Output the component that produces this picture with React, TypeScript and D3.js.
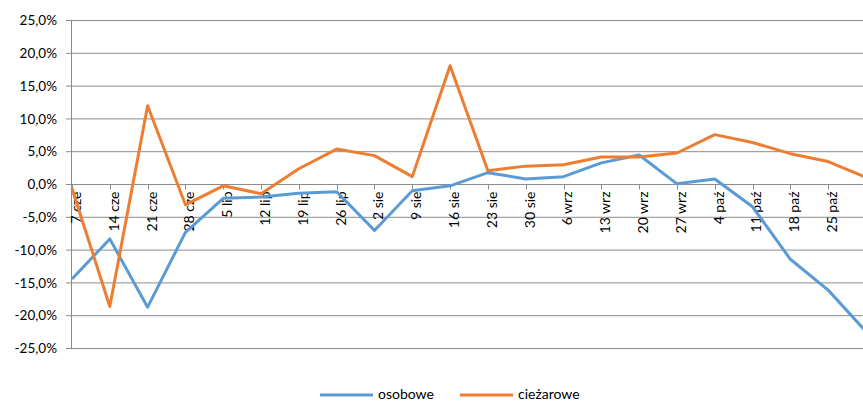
import React from "react";
import * as d3 from "d3";

const categories = [
  "7 cze", "14 cze", "21 cze", "28 cze", "5 lip", "12 lip", "19 lip", "26 lip",
  "2 sie", "9 sie", "16 sie", "23 sie", "30 sie", "6 wrz", "13 wrz", "20 wrz",
  "27 wrz", "4 paź", "11 paź", "18 paź", "25 paź", "1 lis",
];
const osobowe = [
  -14.4, -8.3, -18.7, -7.3, -2.1, -1.9, -1.35, -1.1, -7.0, -0.95, -0.2, 1.8,
  0.85, 1.2, 3.3, 4.5, 0.1, 0.85, -3.4, -11.4, -16.1, -22.4,
];
const ciezarowe = [
  -0.6, -18.6, 12.0, -3.1, -0.2, -1.4, 2.4, 5.4, 4.4, 1.2, 18.1, 2.1,
  2.8, 3.0, 4.2, 4.2, 4.8, 7.6, 6.4, 4.7, 3.5, 1.1,
];
const yTicks = [25, 20, 15, 10, 5, 0, -5, -10, -15, -20, -25];
const labelCount = 21;

const W = 863;
const H = 401;
const FONT = "Lato, 'Open Sans', sans-serif";

export default function App() {
  const x = d3.scaleLinear().domain([0, categories.length - 1]).range([72, 866]);
  const y = d3.scaleLinear().domain([-25, 25]).range([348.5, 20.5]);
  const line = d3
    .line<number>()
    .x((_, i) => x(i))
    .y((d) => y(d));
  const fmt = (v: number) => v.toFixed(1).replace(".", ",") + "%";
  const y0 = y(0);

  return (
    <svg
      width={W}
      height={H}
      style={{ position: "absolute", left: 0, top: 0, overflow: "hidden", background: "#fff" }}
    >
      {yTicks.map((t) => (
        <g key={t}>
          <line x1={66} x2={W} y1={y(t)} y2={y(t)} stroke="#8c8c8c" strokeWidth={1} />
          <text
            x={57}
            y={y(t)}
            dy="0.35em"
            textAnchor="end"
            fontFamily={FONT}
            fontSize={13.5}
            fill="#000"
          >
            {fmt(t)}
          </text>
        </g>
      ))}
      <line x1={71.5} x2={71.5} y1={y(25)} y2={y(-25)} stroke="#8c8c8c" strokeWidth={1} />
      {categories.map((c, i) => (
        <line
          key={"t" + i}
          x1={Math.round(x(i)) + 0.5}
          x2={Math.round(x(i)) + 0.5}
          y1={y0}
          y2={y0 + 5}
          stroke="#8c8c8c"
          strokeWidth={1}
        />
      ))}
      {categories.slice(0, labelCount).map((c, i) => (
        <text
          key={"l" + i}
          transform={`translate(${x(i) + 4},${y0 + 7}) rotate(-90)`}
          textAnchor="end"
          dy="0.35em"
          fontFamily={FONT}
          fontSize={14}
          fill="#000"
        >
          {c}
        </text>
      ))}
      <path d={line(osobowe) || ""} fill="none" stroke="#5B9BD5" strokeWidth={3} strokeLinejoin="round" />
      <path d={line(ciezarowe) || ""} fill="none" stroke="#ED7D31" strokeWidth={3} strokeLinejoin="round" />
      <g>
        <line x1={320} x2={373} y1={395} y2={395} stroke="#5B9BD5" strokeWidth={3} />
        <text x={378} y={394} dy="0.35em" fontFamily={FONT} fontSize={14} fill="#000">
          osobowe
        </text>
        <line x1={460} x2={513} y1={395} y2={395} stroke="#ED7D31" strokeWidth={3} />
        <text x={518} y={394} dy="0.35em" fontFamily={FONT} fontSize={14} fill="#000">
          cieżarowe
        </text>
      </g>
    </svg>
  );
}
